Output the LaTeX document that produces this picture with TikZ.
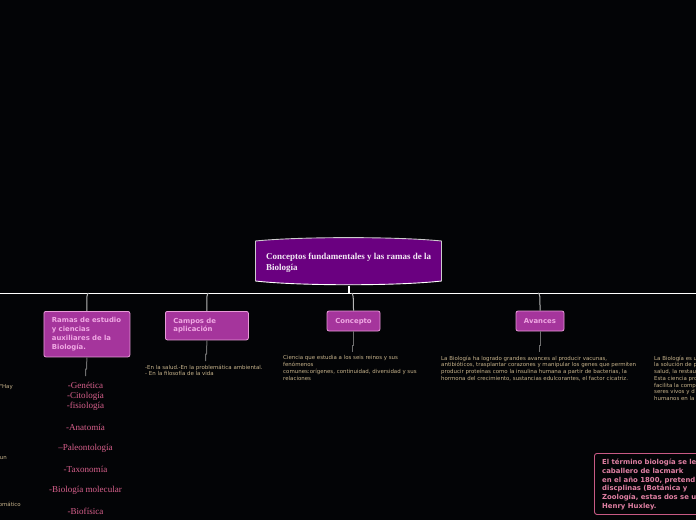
\documentclass[tikz,border=0pt]{standalone}
\usepackage{fontspec}
\setmainfont{Liberation Serif}
\newfontfamily\dv{DejaVu Sans}
\definecolor{bg}{HTML}{030406}
\definecolor{rootfill}{HTML}{6A0080}
\definecolor{boxfill}{HTML}{A5359C}
\definecolor{boxline}{HTML}{E89AD8}
\definecolor{boxtext}{HTML}{F0A8E4}
\definecolor{small}{HTML}{C8B48C}
\definecolor{rosa}{HTML}{D8608C}
\definecolor{rosaline}{HTML}{C85A84}
\definecolor{conn}{HTML}{B8B8B8}
\tikzset{
  branchbox/.style={draw=boxline,line width=.8pt,fill=boxfill,rounded corners=2pt,text=boxtext,font=\dv\bfseries\fontsize{6.9}{8.7}\selectfont,align=left,inner sep=0pt},
  smalltext/.style={text=small,font=\dv\fontsize{5.45}{6.75}\selectfont,align=left,anchor=north west,inner sep=0pt},
  listitem/.style={text=rosa,font=\fontsize{9.05}{10}\selectfont,inner sep=0pt},
  upconn/.style={draw=conn,line width=1pt},
  downconn/.style={draw=conn!60!black,line width=1pt}
}
\begin{document}
\begin{tikzpicture}[x=1pt,y=-1pt]
\useasboundingbox (0,0) rectangle (696,520);
\clip (0,0) rectangle (696,520);
\fill[bg] (0,0) rectangle (696,520);
% main line
\coordinate (lineL) at (0,293);
\coordinate (lineR) at (696,293);
\draw[white,line width=1pt] (lineL) -- (lineR);
% root
\node[minimum width=187pt,minimum height=48pt,inner sep=0pt] (root) at (348.5,261) {};
\fill[rootfill] (255.5,241) .. controls (300,236.5) and (397,236.5) .. (441.5,241) -- (441.5,281) .. controls (397,286) and (300,286) .. (255.5,281) -- cycle;
\draw[line width=.9pt,white!80!black] (255.5,281) -- (255.5,241) .. controls (300,236.5) and (397,236.5) .. (441.5,241) -- (441.5,281);
\draw[line width=.9pt,white] (255.5,281) .. controls (300,286) and (397,286) .. (441.5,281);
\node[anchor=north west,inner sep=0pt,text=white!92!rootfill,font=\bfseries\fontsize{9}{11}\selectfont,align=left] (roottext) at (266,253) {Conceptos fundamentales y las ramas de la\\Biología};
\coordinate (rootjoin) at (349,293);
\draw[white,line width=1.4pt] (349,285.5) -- (rootjoin);
% branch boxes
\node[branchbox,minimum width=86pt,minimum height=45.5pt,anchor=north west,text width=70pt,inner xsep=8pt] (b1) at (43.5,311) {Ramas de estudio\\y ciencias\\auxiliares de la\\Biología.};
\node[branchbox,minimum width=83pt,minimum height=28.5pt,anchor=north west,text width=67pt,inner xsep=8pt] (b2) at (165,311) {Campos de\\aplicación};
\node[branchbox,minimum width=53pt,minimum height=20pt,text height=5.2pt,text depth=0pt] (b3) at (353.5,321) {Concepto};
\node[branchbox,minimum width=48pt,minimum height=20pt,text height=5.2pt,text depth=0pt] (b4) at (540,321) {Avances};
% upper connectors
\coordinate (j1) at (88.5,293);
\coordinate (j2) at (208.5,293);
\coordinate (j3) at (351.5,293);
\coordinate (j4) at (538,293);
\draw[upconn] (j1) .. controls (87,294) and (86.5,295) .. (b1.north);
\draw[upconn] (j2) .. controls (207,294) and (206.5,295) .. (b2.north);
\draw[upconn] (j3) .. controls (353,294) and (353.5,295) .. (b3.north);
\draw[upconn] (j4) .. controls (540,294) and (540,295) .. (b4.north);
% lower connectors
\coordinate (k1) at (86.5,369);
\coordinate (e1) at (85.5,376);
\coordinate (k2) at (206.5,354);
\coordinate (e2) at (205.5,361);
\coordinate (k3) at (353.5,345);
\coordinate (e3) at (352.5,352);
\coordinate (k4) at (540,345);
\coordinate (e4) at (539,352);
\draw[downconn] (b1.south) -- (k1) -- (k1 -| e1) -- (e1);
\draw[downconn] (b2.south) -- (k2) -- (k2 -| e2) -- (e2);
\draw[downconn] (b3.south) -- (k3) -- (k3 -| e3) -- (e3);
\draw[downconn] (b4.south) -- (k4) -- (k4 -| e4) -- (e4);
% small texts
\node[smalltext] (t2) at (145,364.5) {-En la salud.-En la problemática ambiental.\\- En la filosofía de la vida};
\node[smalltext] (t3) at (283,355.5) {Ciencia que estudia a los seis reinos y sus\\fenómenos\\comunes:orígenes, continuidad, diversidad y sus\\relaciones};
\node[smalltext] (t4) at (441,355.5) {La Biología ha logrado grandes avances al producir vacunas,\\antibióticos, trasplantar corazones y manipular los genes que permiten\\producir proteínas como la insulina humana a partir de bacterias, la\\hormona del crecimiento, sustancias edulcorantes, el factor cicatriz.};
\node[smalltext] (t5) at (654,355.5) {La Biología es u\\la solución de p\\salud, la restau\\Esta ciencia pro\\facilita la comp\\seres vivos y d\\humanos en la};
\node[smalltext,anchor=north east] (l1) at (13,384) {"Hay};
\node[smalltext,anchor=north east] (l2) at (7,456) {un};
\node[smalltext,anchor=north east] (l3) at (21,502) {omático};
% list
\node[listitem] (g1) at (85.5,385.5) {-Genética};
\node[listitem] (g2) at (85.5,396.5) {-Citología};
\node[listitem] (g3) at (85.5,406.5) {-fisiología};
\node[listitem] (g4) at (85.5,427.5) {-Anatomía};
\node[listitem] (g5) at (85.5,448.5) {--Paleontología};
\node[listitem] (g6) at (85.5,469.5) {-Taxonomía};
\node[listitem] (g7) at (85.5,490.5) {-Biología molecular};
\node[listitem] (g8) at (85.5,511.5) {-Biofísica};
% bottom right
\node[draw=rosaline,line width=.9pt,rounded corners=2.5pt,minimum width=160pt,minimum height=61pt,anchor=north west,inner sep=0pt] (note) at (594,453) {};
\node[anchor=north west,inner sep=0pt,text=rosa!80!white,font=\dv\bfseries\fontsize{6.9}{8.7}\selectfont,align=left] (notetext) at (602,459) {El término biología se le\\caballero de lacmark\\en el año 1800, pretend\\discplinas (Botánica y\\Zoología, estas dos se u\\Henry Huxley.};
\end{tikzpicture}
\end{document}
